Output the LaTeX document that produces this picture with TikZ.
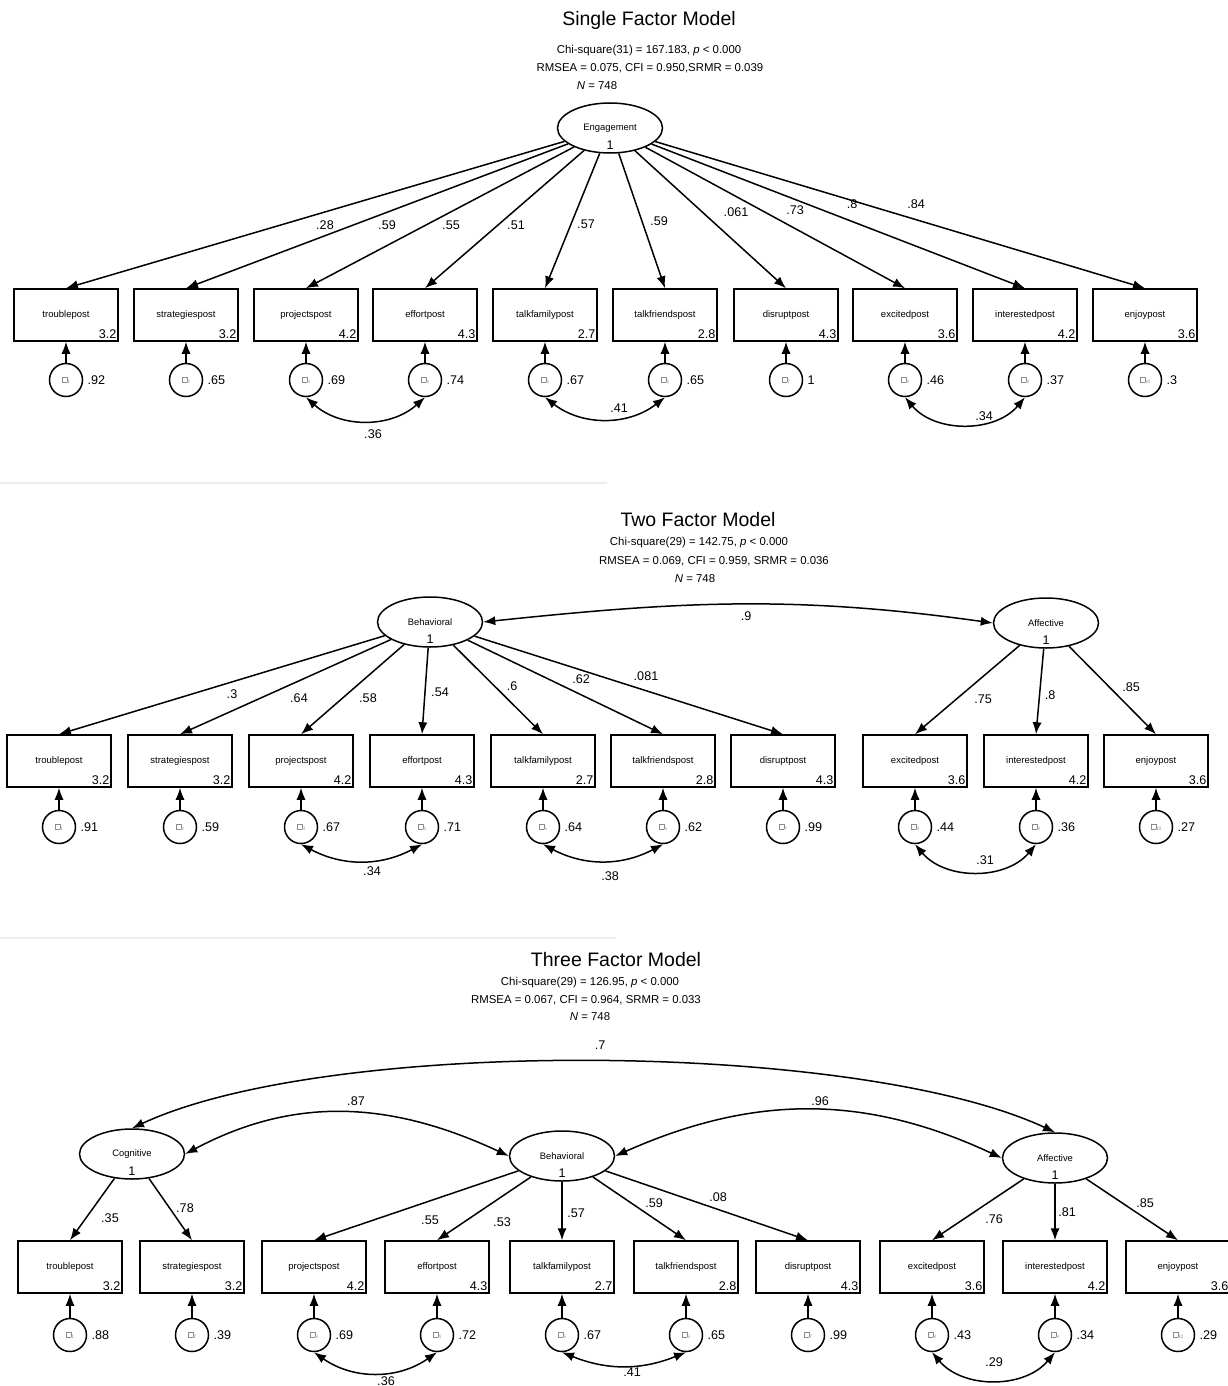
\documentclass[tikz,border=0pt]{standalone}
\usepackage{fontspec}
\setmainfont{Liberation Sans}
\usetikzlibrary{shapes.geometric, arrows.meta}
\newcommand{\errmark}[1]{{\color{black!45}\setlength{\fboxsep}{0pt}\setlength{\fboxrule}{0.25pt}%
	\fbox{\rule{0pt}{2.2pt}\rule{2.2pt}{0pt}}\raisebox{-0.6pt}{\fontsize{2.4}{3}\selectfont #1}}}
\tikzset{
    num/.style={font=\fontsize{6.3}{7}\selectfont, inner sep=0pt},
    obs/.style={rectangle, draw, line width=0.75pt, minimum width=52pt, minimum height=26pt,
    	inner sep=0pt, font=\fontsize{4.75}{5}\selectfont},
    lat/.style={ellipse, draw, line width=0.75pt, minimum width=52.5pt, minimum height=25pt,
    	inner sep=0pt, font=\fontsize{4.7}{5}\selectfont,
    	label={[num, label distance=-6.8pt]below:1}},
    err/.style={circle, draw, line width=0.75pt, minimum size=16.5pt, inner sep=0pt},
    icpt/.style={label={[num, anchor=south east, xshift=-1pt, yshift=1.3pt]south east:{#1}}},
    resid/.style={label={[num, label distance=2pt]right:{#1}}},
    title/.style={font=\fontsize{9.75}{11}\selectfont, inner sep=0pt},
    stats/.style={font=\fontsize{5.7}{6.5}\selectfont, inner sep=0pt}
}
\tikzset{
    >={Latex[length=6pt, width=4.6pt]},
    every edge/.append style={line width=0.75pt, ->}
}

\begin{document}
\begin{tikzpicture}[x=0.5pt, y=-0.5pt]
	\useasboundingbox (0,0) rectangle (1227,1386);
	\draw [black!7, line width=0.6pt] (0,483) -- (607,483);
	\draw [black!7, line width=0.6pt] (0,938) -- (616,938);

	% single factor
	\node (sT) [title] at (649,20) {Single Factor Model};
	\node (sS1) [stats] at (649,51) {Chi-square(31) = 167.183, \textit{p} < 0.000};
	\node (sS2) [stats] at (650,68) {RMSEA = 0.075, CFI = 0.950,SRMR = 0.039};
	\node (sS3) [stats] at (597,86) {\textit{N} = 748};
	\node (sEng) [lat] at (610,128) {Engagement};

	\node (s1) [obs, icpt=3.2] at (66,315) {troublepost};
	\node (s2) [obs, icpt=3.2] at (186,315) {strategiespost};
	\node (s3) [obs, icpt=4.2] at (306,315) {projectspost};
	\node (s4) [obs, icpt=4.3] at (425,315) {effortpost};
	\node (s5) [obs, icpt=2.7] at (545,315) {talkfamilypost};
	\node (s6) [obs, icpt=2.8] at (665,315) {talkfriendspost};
	\node (s7) [obs, icpt=4.3] at (786,315) {disruptpost};
	\node (s8) [obs, icpt=3.6] at (905,315) {excitedpost};
	\node (s9) [obs, icpt=4.2] at (1025,315) {interestedpost};
	\node (s10) [obs, icpt=3.6] at (1145,315) {enjoypost};

	\node (se1) [err, resid=.92] at (66,380) {\errmark{1}};
	\node (se2) [err, resid=.65] at (186,380) {\errmark{2}};
	\node (se3) [err, resid=.69] at (306,380) {\errmark{3}};
	\node (se4) [err, resid=.74] at (425,380) {\errmark{4}};
	\node (se5) [err, resid=.67] at (545,380) {\errmark{5}};
	\node (se6) [err, resid=.65] at (665,380) {\errmark{6}};
	\node (se7) [err, resid=1] at (786,380) {\errmark{7}};
	\node (se8) [err, resid=.46] at (905,380) {\errmark{8}};
	\node (se9) [err, resid=.37] at (1025,380) {\errmark{9}};
	\node (se10) [err, resid=.3] at (1145,380) {\errmark{10}};

	\node (sl1) [num] at (325,225) {.28};
	\node (sl2) [num] at (387,225) {.59};
	\node (sl3) [num] at (451,225) {.55};
	\node (sl4) [num] at (516,225) {.51};
	\node (sl5) [num] at (586,224) {.57};
	\node (sl6) [num] at (659,221) {.59};
	\node (sl7) [num] at (736,212) {.061};
	\node (sl8) [num] at (795,210) {.73};
	\node (sl9) [num] at (852,204) {.8};
	\node (sl10) [num] at (916,204) {.84};
	\node (sc1) [num] at (373,434) {.36};
	\node (sc2) [num] at (619,408) {.41};
	\node (sc3) [num] at (984,416) {.34};

	\draw (sEng) edge (s1.north); \draw (sEng) edge (s2.north);
	\draw (sEng) edge (s3.north); \draw (sEng) edge (s4.north);
	\draw (sEng) edge (s5.north); \draw (sEng) edge (s6.north);
	\draw (sEng) edge (s7.north); \draw (sEng) edge (s8.north);
	\draw (sEng) edge (s9.north); \draw (sEng) edge (s10.north);
	\draw (se1) edge (s1); \draw (se2) edge (s2); \draw (se3) edge (s3);
	\draw (se4) edge (s4); \draw (se5) edge (s5); \draw (se6) edge (s6);
	\draw (se7) edge (s7); \draw (se8) edge (s8); \draw (se9) edge (s9);
	\draw (se10) edge (s10);
	\draw (se3.south) edge [<->, out=-42, in=-138] (se4.south);
	\draw (se5.south) edge [<->, out=-38, in=-142] (se6.south);
	\draw (se8.south) edge [<->, out=-50, in=-130] (se9.south);

	% two factor
	\node (tT) [title] at (698,520) {Two Factor Model};
	\node (tS1) [stats] at (699,543) {Chi-square(29) = 142.75, \textit{p} < 0.000};
	\node (tS2) [stats] at (714,561) {RMSEA = 0.069, CFI = 0.959, SRMR = 0.036};
	\node (tS3) [stats] at (695,579) {\textit{N} = 748};
	\node (tBeh) [lat] at (430,622) {Behavioral};
	\node (tAff) [lat] at (1046,623) {Affective};

	\node (t1) [obs, icpt=3.2] at (59,761) {troublepost};
	\node (t2) [obs, icpt=3.2] at (180,761) {strategiespost};
	\node (t3) [obs, icpt=4.2] at (301,761) {projectspost};
	\node (t4) [obs, icpt=4.3] at (422,761) {effortpost};
	\node (t5) [obs, icpt=2.7] at (543,761) {talkfamilypost};
	\node (t6) [obs, icpt=2.8] at (663,761) {talkfriendspost};
	\node (t7) [obs, icpt=4.3] at (783,761) {disruptpost};
	\node (t8) [obs, icpt=3.6] at (915,761) {excitedpost};
	\node (t9) [obs, icpt=4.2] at (1036,761) {interestedpost};
	\node (t10) [obs, icpt=3.6] at (1156,761) {enjoypost};

	\node (te1) [err, resid=.91] at (59,827) {\errmark{1}};
	\node (te2) [err, resid=.59] at (180,827) {\errmark{2}};
	\node (te3) [err, resid=.67] at (301,827) {\errmark{3}};
	\node (te4) [err, resid=.71] at (422,827) {\errmark{4}};
	\node (te5) [err, resid=.64] at (543,827) {\errmark{5}};
	\node (te6) [err, resid=.62] at (663,827) {\errmark{6}};
	\node (te7) [err, resid=.99] at (783,827) {\errmark{7}};
	\node (te8) [err, resid=.44] at (915,827) {\errmark{8}};
	\node (te9) [err, resid=.36] at (1036,827) {\errmark{9}};
	\node (te10) [err, resid=.27] at (1156,827) {\errmark{10}};

	\node (tl1) [num] at (232,694) {.3};
	\node (tl2) [num] at (299,698) {.64};
	\node (tl3) [num] at (368,698) {.58};
	\node (tl4) [num] at (440,692) {.54};
	\node (tl5) [num] at (512,686) {.6};
	\node (tl6) [num] at (581,679) {.62};
	\node (tl7) [num] at (646,676) {.081};
	\node (tl8) [num] at (983,699) {.75};
	\node (tl9) [num] at (1050,695) {.8};
	\node (tl10) [num] at (1131,687) {.85};
	\node (tc1) [num] at (372,871) {.34};
	\node (tc2) [num] at (610,876) {.38};
	\node (tc3) [num] at (985,860) {.31};
	\node (tf1) [num] at (746,616) {.9};

	\draw (tBeh) edge (t1.north); \draw (tBeh) edge (t2.north);
	\draw (tBeh) edge (t3.north); \draw (tBeh) edge (t4.north);
	\draw (tBeh) edge (t5.north); \draw (tBeh) edge (t6.north);
	\draw (tBeh) edge (t7.north);
	\draw (tAff) edge (t8.north); \draw (tAff) edge (t9.north);
	\draw (tAff) edge (t10.north);
	\draw (te1) edge (t1); \draw (te2) edge (t2); \draw (te3) edge (t3);
	\draw (te4) edge (t4); \draw (te5) edge (t5); \draw (te6) edge (t6);
	\draw (te7) edge (t7); \draw (te8) edge (t8); \draw (te9) edge (t9);
	\draw (te10) edge (t10);
	\draw (te3.south) edge [<->, out=-28, in=-152] (te4.south);
	\draw (te5.south) edge [<->, out=-28, in=-152] (te6.south);
	\draw (te8.south) edge [<->, out=-50, in=-130] (te9.south);
	\draw (tBeh.east) edge [<->, out=6, in=172] (tAff.west);

	% three factor
	\node (hT) [title] at (616,960) {Three Factor Model};
	\node (hS1) [stats] at (590,983) {Chi-square(29) = 126.95, \textit{p} < 0.000};
	\node (hS2) [stats] at (586,1000) {RMSEA = 0.067, CFI = 0.964, SRMR = 0.033};
	\node (hS3) [stats] at (590,1017) {\textit{N} = 748};
	\node (hCog) [lat] at (132,1154) {Cognitive};
	\node (hBeh) [lat] at (562,1156) {Behavioral};
	\node (hAff) [lat] at (1055,1158) {Affective};

	\node (h1) [obs, icpt=3.2] at (70,1267) {troublepost};
	\node (h2) [obs, icpt=3.2] at (192,1267) {strategiespost};
	\node (h3) [obs, icpt=4.2] at (314,1267) {projectspost};
	\node (h4) [obs, icpt=4.3] at (437,1267) {effortpost};
	\node (h5) [obs, icpt=2.7] at (562,1267) {talkfamilypost};
	\node (h6) [obs, icpt=2.8] at (686,1267) {talkfriendspost};
	\node (h7) [obs, icpt=4.3] at (808,1267) {disruptpost};
	\node (h8) [obs, icpt=3.6] at (932,1267) {excitedpost};
	\node (h9) [obs, icpt=4.2] at (1055,1267) {interestedpost};
	\node (h10) [obs, icpt=3.6] at (1178,1267) {enjoypost};

	\node (he1) [err, resid=.88] at (70,1335) {\errmark{1}};
	\node (he2) [err, resid=.39] at (192,1335) {\errmark{2}};
	\node (he3) [err, resid=.69] at (314,1335) {\errmark{3}};
	\node (he4) [err, resid=.72] at (437,1335) {\errmark{4}};
	\node (he5) [err, resid=.67] at (562,1335) {\errmark{5}};
	\node (he6) [err, resid=.65] at (686,1335) {\errmark{6}};
	\node (he7) [err, resid=.99] at (808,1335) {\errmark{7}};
	\node (he8) [err, resid=.43] at (932,1335) {\errmark{8}};
	\node (he9) [err, resid=.34] at (1055,1335) {\errmark{9}};
	\node (he10) [err, resid=.29] at (1178,1335) {\errmark{10}};

	\node (hl1) [num] at (110,1218) {.35};
	\node (hl2) [num] at (185,1208) {.78};
	\node (hl3) [num] at (430,1220) {.55};
	\node (hl4) [num] at (502,1222) {.53};
	\node (hl5) [num] at (576,1213) {.57};
	\node (hl6) [num] at (654,1203) {.59};
	\node (hl7) [num] at (718,1197) {.08};
	\node (hl8) [num] at (994,1219) {.76};
	\node (hl9) [num] at (1067,1212) {.81};
	\node (hl10) [num] at (1145,1203) {.85};
	\node (hc1) [num] at (386,1381) {.36};
	\node (hc2) [num] at (632,1372) {.41};
	\node (hc3) [num] at (994,1362) {.29};
	\node (hf1) [num] at (356,1101) {.87};
	\node (hf2) [num] at (820,1101) {.96};
	\node (hf3) [num] at (600,1045) {.7};

	\draw (hCog) edge (h1.north); \draw (hCog) edge (h2.north);
	\draw (hBeh) edge (h3.north); \draw (hBeh) edge (h4.north);
	\draw (hBeh) edge (h5.north); \draw (hBeh) edge (h6.north);
	\draw (hBeh) edge (h7.north);
	\draw (hAff) edge (h8.north); \draw (hAff) edge (h9.north);
	\draw (hAff) edge (h10.north);
	\draw (he1) edge (h1); \draw (he2) edge (h2); \draw (he3) edge (h3);
	\draw (he4) edge (h4); \draw (he5) edge (h5); \draw (he6) edge (h6);
	\draw (he7) edge (h7); \draw (he8) edge (h8); \draw (he9) edge (h9);
	\draw (he10) edge (h10);
	\draw (he3.south) edge [<->, out=-35, in=-145] (he4.south);
	\draw (he5.south) edge [<->, out=-22, in=-158] (he6.south);
	\draw (he8.south) edge [<->, out=-50, in=-130] (he9.south);
	\draw (hCog.east) edge [<->, out=28, in=155] (hBeh.west);
	\draw (hBeh.east) edge [<->, out=24, in=155] (hAff.west);
	\draw (hCog.north) edge [<->, out=25, in=155, looseness=0.6] (hAff.north);
\end{tikzpicture}
\end{document}
